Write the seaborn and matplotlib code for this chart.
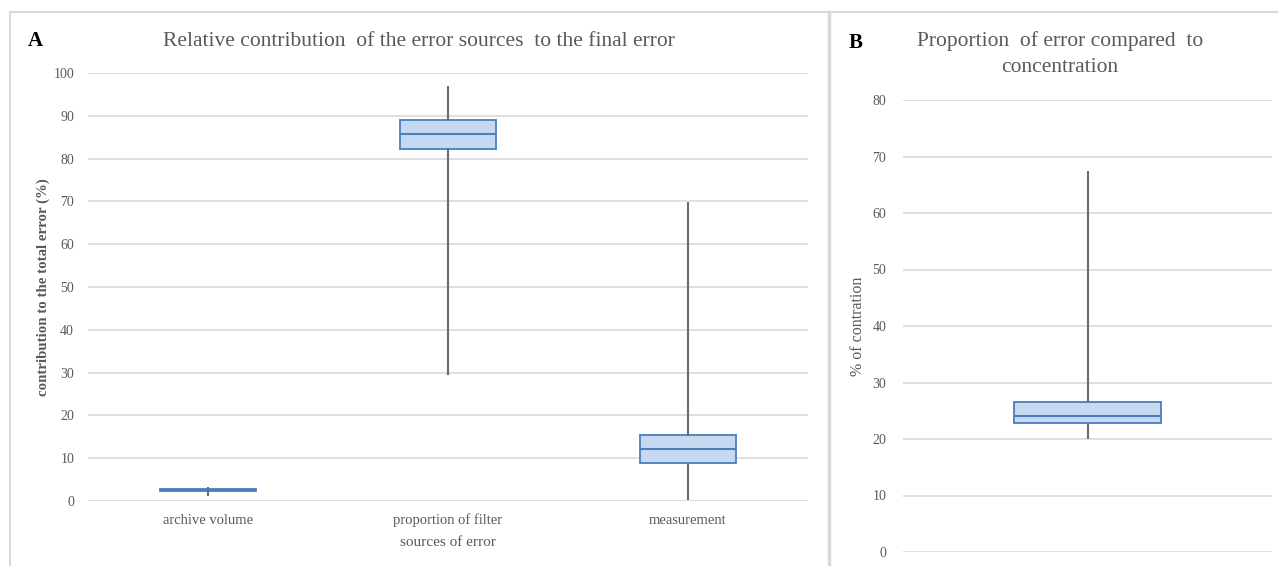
import matplotlib
matplotlib.use("Agg")
import matplotlib.pyplot as plt
import seaborn as sns
import pandas as pd
from matplotlib.lines import Line2D

sns.set_theme(style="white")
plt.rcParams['font.family'] = ['Liberation Serif', 'DejaVu Serif']

# ---- data (five-number summaries: min, Q1, median, Q3, max) ----
categories_a = ["archive volume", "proportion of filter", "measurement"]
archive_volume = [1.2, 2.3, 2.5, 2.7, 3.2]
proportion_filter = [29.4, 82.2, 85.7, 89.0, 97.0]
measurement = [0.2, 8.8, 12.1, 15.5, 69.9]
concentration_b = [20.0, 22.8, 24.1, 26.5, 67.4]

yticks_a = list(range(0, 101, 10))
yticks_b = list(range(0, 81, 10))

title_a = "Relative contribution  of the error sources  to the final error"
title_b = "Proportion  of error compared  to\nconcentration"
ylabel_a = "contribution to the total error (%)"
xlabel_a = "sources of error"
ylabel_b = "% of contration"

df_a = pd.DataFrame({
    "source": [c for c, vals in zip(categories_a, [archive_volume, proportion_filter, measurement]) for _ in vals],
    "value": archive_volume + proportion_filter + measurement,
})
df_b = pd.DataFrame({"group": ["" for _ in concentration_b], "value": concentration_b})

FILL = "#c6d9f1"
EDGE = "#4a7ebf"
WHISK = "#6b6b6b"
GRID = "#d9d9d9"
TXT = "#595959"

fig = plt.figure(figsize=(12.78, 5.66), dpi=100)

box_kw = dict(
    width=0.4, whis=(0, 100), showcaps=False, fliersize=0,
    boxprops=dict(facecolor=FILL, edgecolor=EDGE, linewidth=1.3),
    medianprops=dict(color=EDGE, linewidth=1.5),
    whiskerprops=dict(color=WHISK, linewidth=1.5),
)

def style_axes(ax, ylim, yticks):
    ax.set_ylim(*ylim)
    ax.set_yticks(yticks)
    ax.yaxis.grid(True, color=GRID, linewidth=1.2)
    ax.set_axisbelow(True)
    for s in ax.spines.values():
        s.set_visible(False)
    ax.tick_params(axis='both', length=0, colors=TXT, labelsize=10)
    ax.tick_params(axis='y', pad=10)

# Panel A
ax1 = fig.add_axes([88/1278, 1-501/566, (808-88)/1278, (501-73)/566])
sns.boxplot(data=df_a, x="source", y="value", ax=ax1, **box_kw)
style_axes(ax1, (0, 100), yticks_a)
ax1.set_xlim(-0.5, 2.5)
ax1.set_xlabel(xlabel_a, fontsize=11, color=TXT, labelpad=6)
ax1.set_ylabel(ylabel_a, fontsize=10.7, color=TXT, fontweight="bold")
ax1.yaxis.set_label_coords((50 - 88) / 720, 0.5)
ax1.tick_params(axis='x', labelsize=10.5, pad=9)

# Panel B
ax2 = fig.add_axes([903/1278, 1-552/566, (1272-903)/1278, (552-100)/566])
sns.boxplot(data=df_b, x="group", y="value", ax=ax2, **box_kw)
style_axes(ax2, (0, 80), yticks_b)
ax2.tick_params(axis='y', pad=12)
ax2.set_xlim(-0.5, 0.5)
ax2.set_xticks([])
ax2.set_xlabel("")
ax2.set_ylabel(ylabel_b, fontsize=11.5, color=TXT)
ax2.yaxis.set_label_coords((866 - 903) / 369, 0.5)

# titles and panel letters
fig.text(419/1278, 1-41/566, title_a, ha="center", va="center", fontsize=15.5, color=TXT)
fig.text(28/1278, 1-41/566, "A", ha="left", va="center", fontsize=15, fontweight="bold", color="black")
fig.text(1060/1278, 1-54/566, title_b, ha="center", va="center", fontsize=15.5, color=TXT, linespacing=1.55)
fig.text(849/1278, 1-43/566, "B", ha="left", va="center", fontsize=15, fontweight="bold", color="black")

# panel borders
fig.add_artist(Line2D([10/1278, 1], [1-12/566]*2, color=GRID, linewidth=1.5, transform=fig.transFigure))
fig.add_artist(Line2D([10/1278]*2, [0, 1-12/566], color=GRID, linewidth=1.5, transform=fig.transFigure))
fig.add_artist(Line2D([829/1278]*2, [0, 1-12/566], color=GRID, linewidth=2.5, transform=fig.transFigure))

fig.savefig("out.png", dpi=100)
